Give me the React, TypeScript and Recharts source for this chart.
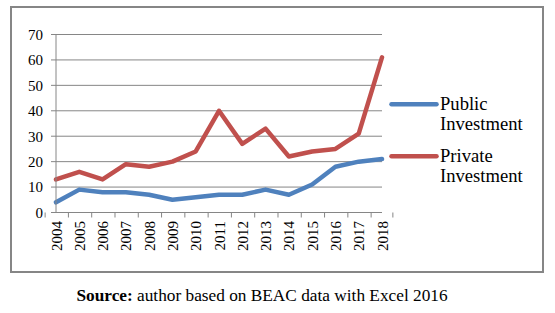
import React from 'react';
import { LineChart, Line, XAxis, YAxis, CartesianGrid, Legend } from 'recharts';

const years = ['2004', '2005', '2006', '2007', '2008', '2009', '2010', '2011', '2012', '2013', '2014', '2015', '2016', '2017', '2018'];
const publicInvestment = [4, 9, 8, 8, 7, 5, 6, 7, 7, 9, 7, 11, 18, 20, 21];
const privateInvestment = [13, 16, 13, 19, 18, 20, 24, 40, 27, 33, 22, 24, 25, 31, 61];
const yTicks = [0, 10, 20, 30, 40, 50, 60, 70];
const seriesNames = ['Public Investment', 'Private Investment'];
const seriesColors = ['#4F81BD', '#C0504D'];

const data = years.map((year, i) => ({
  year,
  publicInv: publicInvestment[i],
  privateInv: privateInvestment[i],
}));

const FONT = '"Liberation Serif", "Times New Roman", serif';
const AXIS_GRAY = '#868686';

const XTick = (props: any) => {
  const { x, y, payload, index, visibleTicksCount } = props;
  const half = payload && typeof payload.offset === 'number' && payload.offset > 0 ? payload.offset : 10.87;
  const axisY = y - 7;
  const isLast = index === (visibleTicksCount ?? years.length) - 1;
  return (
    <g>
      <line x1={x - half} x2={x - half} y1={axisY} y2={axisY + 5} stroke={AXIS_GRAY} strokeWidth={1} />
      {isLast && <line x1={x + half} x2={x + half} y1={axisY} y2={axisY + 5} stroke={AXIS_GRAY} strokeWidth={1} />}
      <g transform={`translate(${x},${y})`}>
        <text transform="rotate(-90)" x={-1.5} y={5.5} textAnchor="end" fill="#000" fontSize={15} style={{ fontFamily: FONT }}>
          {payload.value}
        </text>
      </g>
    </g>
  );
};

const YTick = (props: any) => {
  const { x, y, payload } = props;
  return (
    <text x={x} y={y} dy="0.355em" textAnchor="end" fill="#000" fontSize={15} style={{ fontFamily: FONT }}>
      {payload.value}
    </text>
  );
};

const LegendContent = (props: any) => {
  const payload = [...(props.payload || [])].sort(
    (a: any, b: any) => seriesNames.indexOf(a.value) - seriesNames.indexOf(b.value)
  );
  return (
    <div style={{ position: 'relative', width: 160, height: 110, fontFamily: FONT }}>
      {payload.map((entry: any, i: number) => {
        const words = String(entry.value).split(' ');
        return (
          <div key={i} style={{ position: 'absolute', left: 0, top: i * 52, width: 160, height: 40 }}>
            <svg width={50} height={20} style={{ position: 'absolute', left: 0, top: 0 }}>
              <line x1={2.5} x2={47.5} y1={9.3} y2={9.3} stroke={entry.color} strokeWidth={4.5} strokeLinecap="round" />
            </svg>
            <div style={{ position: 'absolute', left: 51, top: -0.5, fontSize: 18.6, lineHeight: '20px', color: '#000', whiteSpace: 'nowrap', fontFamily: FONT }}>
              {words.map((w: string, j: number) => (
                <div key={j}>{w}</div>
              ))}
            </div>
          </div>
        );
      })}
    </div>
  );
};

export default function App() {
  return (
    <div style={{ position: 'absolute', left: 0, top: 0, width: 555, height: 313, background: '#fff', fontFamily: FONT }}>
      <div
        style={{
          position: 'absolute',
          left: 10,
          top: 6,
          width: 534,
          height: 267,
          boxSizing: 'border-box',
          border: `2px solid ${AXIS_GRAY}`,
        }}
      />
      <div style={{ position: 'absolute', left: 0, top: 0 }}>
        <LineChart
          width={555}
          height={313}
          data={data}
          margin={{ top: 34.5, right: 173, left: 0, bottom: 50.5 }}
          style={{ fontFamily: FONT }}
        >
          <CartesianGrid horizontal={true} vertical={false} stroke={AXIS_GRAY} strokeWidth={1} />
          <XAxis
            dataKey="year"
            height={50}
            axisLine={{ stroke: AXIS_GRAY, strokeWidth: 1 }}
            tickLine={false}
            tickSize={5}
            tickMargin={2}
            interval={0}
            tick={(p: any) => <XTick {...p} />}
          />
          <YAxis
            width={56}
            domain={[0, 70]}
            ticks={yTicks}
            interval={0}
            axisLine={{ stroke: AXIS_GRAY, strokeWidth: 1 }}
            tickLine={{ stroke: AXIS_GRAY, strokeWidth: 1 }}
            tickSize={5}
            tickMargin={8}
            tick={(p: any) => <YTick {...p} />}
          />
          <Legend
            layout="horizontal"
            align="center"
            verticalAlign="middle"
            itemSorter={null as any}
            wrapperStyle={{ position: 'absolute', left: 389, top: 94.7, width: 160, height: 110 }}
            content={(p: any) => <LegendContent {...p} />}
          />
          <Line
            type="linear"
            dataKey="publicInv"
            name={seriesNames[0]}
            stroke={seriesColors[0]}
            strokeWidth={4.5}
            strokeLinejoin="round"
            strokeLinecap="round"
            dot={false}
            activeDot={false}
            isAnimationActive={false}
          />
          <Line
            type="linear"
            dataKey="privateInv"
            name={seriesNames[1]}
            stroke={seriesColors[1]}
            strokeWidth={4.5}
            strokeLinejoin="round"
            strokeLinecap="round"
            dot={false}
            activeDot={false}
            isAnimationActive={false}
          />
        </LineChart>
      </div>
      <div
        style={{
          position: 'absolute',
          left: 0,
          top: 286.3,
          width: 524,
          textAlign: 'center',
          fontSize: 17.3,
          lineHeight: '20px',
          color: '#000',
          whiteSpace: 'nowrap',
          fontFamily: FONT,
        }}
      >
        <b>Source:</b> author based on BEAC data with Excel 2016
      </div>
    </div>
  );
}
